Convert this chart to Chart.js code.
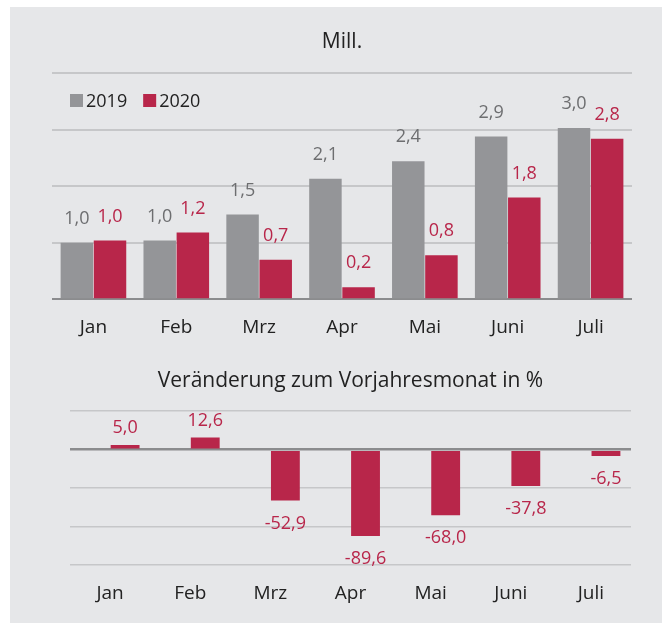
<!DOCTYPE html>
<html>
<head>
<meta charset="utf-8">
<script src="https://cdn.jsdelivr.net/npm/chart.js@4.4.0/dist/chart.umd.min.js"></script>
<style>
  body { margin: 0; background: #fff; }
  #panel { position: absolute; left: 10px; top: 7px; width: 652px; height: 616px; background: #e6e7e9; }
  #wrap1 { position: absolute; left: 0; top: 0; width: 662px; height: 363px; }
  #wrap2 { position: absolute; left: 0; top: 358px; width: 662px; height: 265px; }
</style>
</head>
<body>
<div id="panel"></div>
<div id="wrap1"><canvas id="millChart"></canvas></div>
<div id="wrap2"><canvas id="changeChart"></canvas></div>
<script>
var months = ['Jan', 'Feb', 'Mrz', 'Apr', 'Mai', 'Juni', 'Juli'];
var mill2019 = [1.0, 1.04, 1.5, 2.13, 2.44, 2.88, 3.03];
var mill2020 = [1.04, 1.18, 0.7, 0.21, 0.78, 1.8, 2.84];
var change = [5.0, 12.6, -52.9, -89.6, -68.0, -37.8, -6.5];
var millRange = [0, 4, 1];        // min, max, step
var changeRange = [-120, 40, 40];

var grey = '#949598';
var red = '#b8264a';
var greyText = '#6d6e70';
var fontFamily = '"Open Sans", sans-serif';

Chart.defaults.font.family = fontFamily;
Chart.defaults.color = '#222';

function fmt(v) {
    return v.toFixed(1).replace('.', ',');
}

// value labels above / below the bars
function labelPlugin(offUp, offDown) {
    return {
        id: 'valueLabels',
        afterDatasetsDraw: function(chart) {
            var ctx = chart.ctx;
            ctx.save();
            ctx.font = '18px ' + fontFamily;
            ctx.textAlign = 'center';
            ctx.textBaseline = 'middle';
            chart.data.datasets.forEach(function(ds, i) {
                var meta = chart.getDatasetMeta(i);
                ctx.fillStyle = ds.labelColor;
                meta.data.forEach(function(bar, j) {
                    var v = ds.data[j];
                    if (v === null) return;
                    var y = v >= 0 ? bar.y - offUp : bar.y + offDown;
                    ctx.fillText(fmt(v), bar.x, y);
                });
            });
            ctx.restore();
        }
    };
}

// legend inside the plot area
var legendPlugin = {
    id: 'innerLegend',
    afterDraw: function(chart) {
        var ctx = chart.ctx;
        var x = chart.chartArea.left + 18;
        var y = 101;
        ctx.save();
        ctx.font = '18px ' + fontFamily;
        ctx.textBaseline = 'middle';
        chart.data.datasets.forEach(function(ds) {
            ctx.fillStyle = ds.backgroundColor;
            ctx.fillRect(x, y - 7, 13, 13);
            ctx.fillStyle = '#222';
            ctx.fillText(ds.label, x + 16, y + 1);
            x += 16 + ctx.measureText(ds.label).width + 16;
        });
        ctx.restore();
    }
};

function gridColor(c) {
    return c.tick.value === 0 ? '#8b8c8e' : '#c6c7c9';
}

new Chart(document.getElementById('millChart'), {
    type: 'bar',
    data: {
        labels: months,
        datasets: [
            { label: '2019', data: mill2019, backgroundColor: grey, labelColor: greyText },
            { label: '2020', data: mill2020, backgroundColor: red, labelColor: red }
        ]
    },
    options: {
        responsive: true,
        maintainAspectRatio: false,
        animation: false,
        categoryPercentage: 0.8,
        barPercentage: 0.98,
        layout: { padding: { left: 52, right: 30, top: 0, bottom: 7 } },
        plugins: {
            legend: { display: false },
            tooltip: { enabled: false },
            title: {
                display: true,
                text: 'Mill.',
                color: '#222',
                font: { size: 21, weight: 'normal' },
                padding: { top: 29, bottom: 19 }
            }
        },
        scales: {
            x: {
                grid: { display: false, drawTicks: false },
                border: { display: false },
                ticks: { font: { size: 19 }, color: '#222', padding: 17 }
            },
            y: {
                min: millRange[0],
                max: millRange[1],
                ticks: { display: false, stepSize: millRange[2] },
                border: { display: false },
                grid: { color: gridColor, lineWidth: 2, drawTicks: false }
            }
        }
    },
    plugins: [labelPlugin(24, 22), legendPlugin]
});

new Chart(document.getElementById('changeChart'), {
    type: 'bar',
    data: {
        labels: months,
        datasets: [
            { label: '', data: months.map(function() { return null; }), backgroundColor: red, labelColor: red },
            { label: 'Veränderung', data: change, backgroundColor: red, labelColor: red }
        ]
    },
    options: {
        responsive: true,
        maintainAspectRatio: false,
        animation: false,
        categoryPercentage: 0.75,
        barPercentage: 0.96,
        layout: { padding: { left: 70, right: 31, top: 0, bottom: 1 } },
        plugins: {
            legend: { display: false },
            tooltip: { enabled: false },
            title: {
                display: true,
                text: 'Veränderung zum Vorjahresmonat in %',
                color: '#222',
                font: { size: 21, weight: 'normal' },
                padding: { top: 10, bottom: 18 }
            }
        },
        scales: {
            x: {
                grid: { display: false, drawTicks: false },
                border: { display: false },
                ticks: { font: { size: 19 }, color: '#222', padding: 17 }
            },
            y: {
                min: changeRange[0],
                max: changeRange[1],
                ticks: { display: false, stepSize: changeRange[2] },
                border: { display: false },
                grid: { color: gridColor, lineWidth: function(c) { return c.tick.value === 0 ? 2.5 : 1.5; }, drawTicks: false }
            }
        }
    },
    plugins: [labelPlugin(17, 23)]
});
</script>
</body>
</html>
